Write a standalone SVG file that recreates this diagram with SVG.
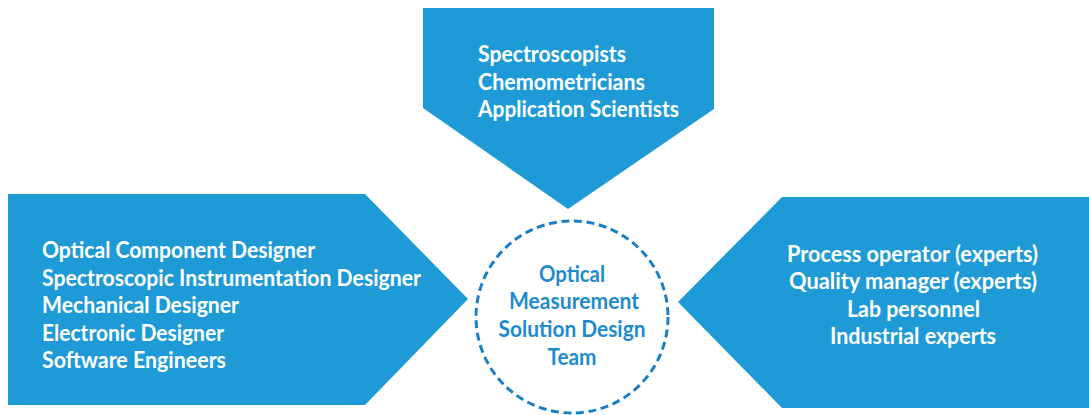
<svg xmlns="http://www.w3.org/2000/svg" width="1089" height="415" viewBox="0 0 1089 415">
  <style>
    .arrow { fill: #1e9bd7; }
    .label { font-family: Lato, "Open Sans", "Liberation Sans", sans-serif; font-weight: 700; font-size: 22px; fill: #ffffff; }
    .core { fill: #ffffff; stroke: #1b80c3; stroke-width: 3; stroke-dasharray: 8 4.6; }
    .core-label { font-family: Lato, "Open Sans", "Liberation Sans", sans-serif; font-weight: 700; font-size: 22px; fill: #1e8bcf; text-anchor: middle; }
  </style>
  <rect width="1089" height="415" fill="#ffffff"/>

  <!-- Scientific expertise: pentagon pointing down -->
  <g id="science">
    <polygon class="arrow" points="423,8 714,8 714,109 568,209 423,108"/>
    <text class="label" x="478" y="62" textLength="148" lengthAdjust="spacingAndGlyphs">Spectroscopists</text>
    <text class="label" x="478" y="90" textLength="167" lengthAdjust="spacingAndGlyphs">Chemometricians</text>
    <text class="label" x="478" y="117" textLength="201" lengthAdjust="spacingAndGlyphs">Application Scientists</text>
  </g>

  <!-- Engineering: pentagon pointing right -->
  <g id="engineering">
    <polygon class="arrow" points="8,194 365,194 468,299 365,405 8,405"/>
    <text class="label" x="42" y="258" textLength="273" lengthAdjust="spacingAndGlyphs">Optical Component Designer</text>
    <text class="label" x="42" y="286" textLength="379" lengthAdjust="spacingAndGlyphs">Spectroscopic Instrumentation Designer</text>
    <text class="label" x="42" y="313" textLength="197" lengthAdjust="spacingAndGlyphs">Mechanical Designer</text>
    <text class="label" x="42" y="341" textLength="182" lengthAdjust="spacingAndGlyphs">Electronic Designer</text>
    <text class="label" x="42" y="368" textLength="184" lengthAdjust="spacingAndGlyphs">Software Engineers</text>
  </g>

  <!-- Industrial users: pentagon pointing left -->
  <g id="industry">
    <polygon class="arrow" points="1089,197 782,197 678,302 782,408 1089,408"/>
    <text class="label" x="787" y="262" textLength="251" lengthAdjust="spacingAndGlyphs">Process operator (experts)</text>
    <text class="label" x="789" y="289" textLength="248" lengthAdjust="spacingAndGlyphs">Quality manager (experts)</text>
    <text class="label" x="847" y="317" textLength="133" lengthAdjust="spacingAndGlyphs">Lab personnel</text>
    <text class="label" x="830" y="344" textLength="166" lengthAdjust="spacingAndGlyphs">Industrial experts</text>
  </g>

  <!-- Central team -->
  <g id="team">
    <circle class="core" cx="572" cy="317" r="96"/>
    <text class="core-label" x="572" y="282" textLength="66" lengthAdjust="spacingAndGlyphs">Optical</text>
    <text class="core-label" x="574" y="309" textLength="130" lengthAdjust="spacingAndGlyphs">Measurement</text>
    <text class="core-label" x="572" y="337" textLength="147" lengthAdjust="spacingAndGlyphs">Solution Design</text>
    <text class="core-label" x="572" y="365" textLength="49" lengthAdjust="spacingAndGlyphs">Team</text>
  </g>
</svg>
